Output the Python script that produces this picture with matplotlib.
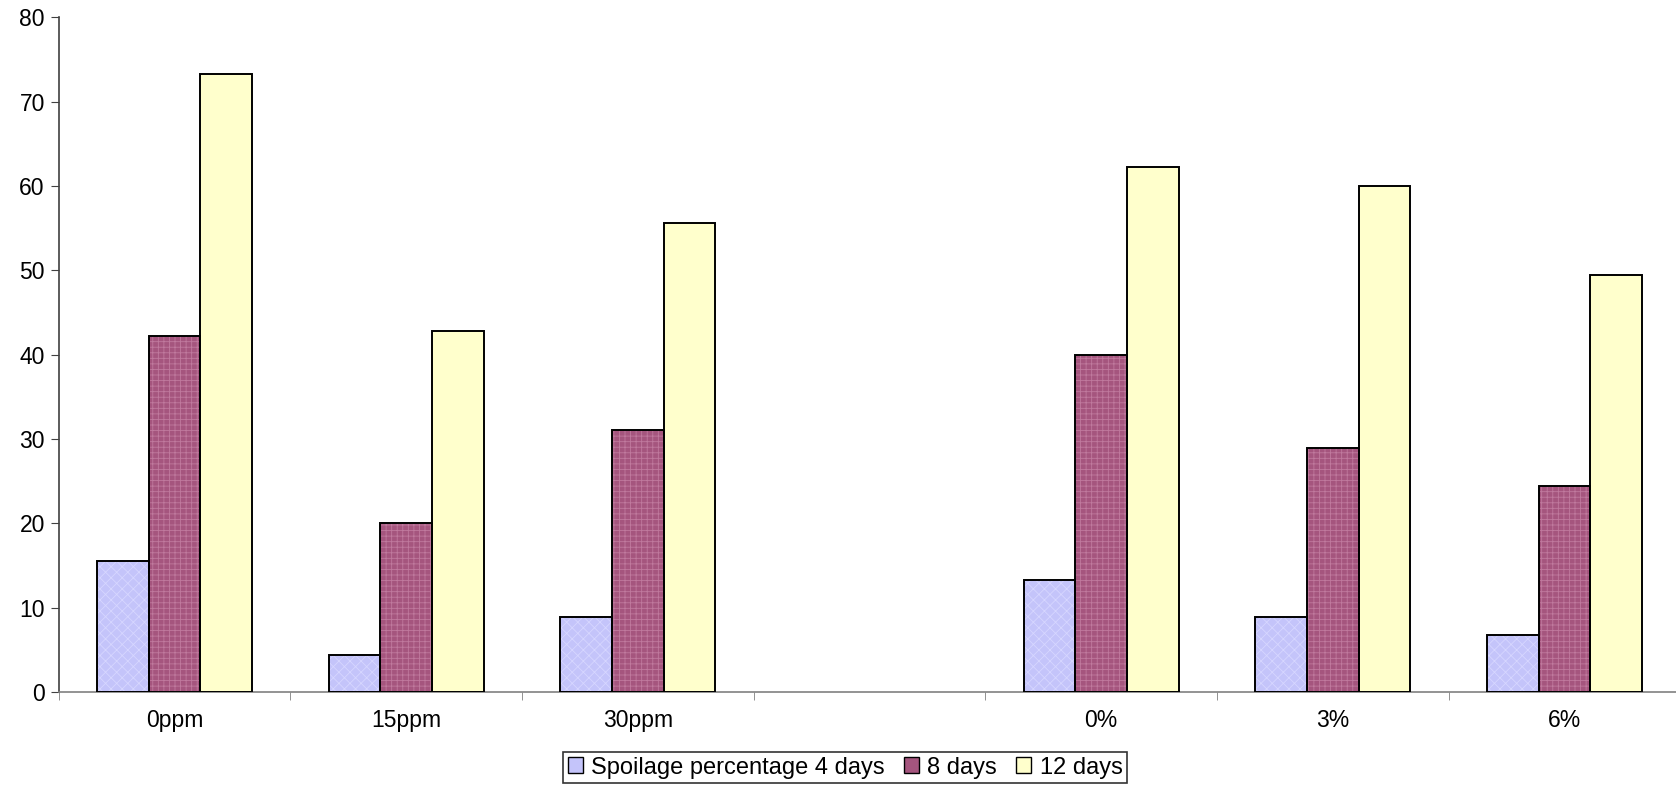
import numpy as np
import matplotlib.pyplot as plt
from matplotlib.patches import Patch

# --- data ---
categories = ["0ppm", "15ppm", "30ppm", "", "0%", "3%", "6%"]
days_4 = [15.5, 4.4, 8.9, np.nan, 13.3, 8.9, 6.7]
days_8 = [42.2, 20.0, 31.1, np.nan, 40.0, 28.9, 24.4]
days_12 = [73.3, 42.8, 55.6, np.nan, 62.2, 60.0, 49.4]
series_labels = ["Spoilage percentage 4 days", "8 days", "12 days"]

plt.rcParams['font.family'] = ['Liberation Sans', 'DejaVu Sans']
plt.rcParams['hatch.linewidth'] = 0.6

fig = plt.figure(figsize=(16.76, 7.86), dpi=100)
ax = fig.add_axes([0.035, 0.1196, 0.9675, 0.8584])

# style: face colour, hatch, hatch colour
styles = [
    ("#c4c4fa", "xxx", "#d6d6ff"),
    ("#a5557e", "+++", "#c07a9e"),
    ("#ffffcc", "", "#ffffcc"),
]

x = np.arange(len(categories)) + 0.5
w = 0.223
for i, vals in enumerate([days_4, days_8, days_12]):
    face, hatch, hcol = styles[i]
    pos = x + (i - 1) * w
    ax.bar(pos, vals, width=w, color=face, edgecolor=hcol, hatch=hatch,
           linewidth=0, zorder=2)
    ax.bar(pos, vals, width=w, fill=False, edgecolor="black",
           linewidth=1.4, zorder=3)

ax.set_xlim(0, len(categories))
ax.set_ylim(0, 80)
ax.set_yticks(range(0, 81, 10))

ax.set_xticks(x)
ax.set_xticklabels(categories)
ax.set_xticks(np.arange(len(categories) + 1), minor=True)
ax.tick_params(axis='x', which='major', length=0, pad=12, labelsize=16.5)
ax.tick_params(axis='x', which='minor', length=6, color='#808080', direction='out')
ax.tick_params(axis='y', length=6, color='#404040', labelsize=16.5, pad=4)

for side in ['top', 'right']:
    ax.spines[side].set_visible(False)
ax.spines['left'].set_color('#404040')
ax.spines['bottom'].set_color('#808080')
ax.spines['left'].set_linewidth(1.2)
ax.spines['bottom'].set_linewidth(1.2)

handles = [Patch(facecolor=s[0], edgecolor='black', linewidth=1) for s in styles]
leg = fig.legend(handles, series_labels, loc='center',
                 bbox_to_anchor=(845 / 1676, 0.0235), ncol=3,
                 fontsize=17, frameon=True, fancybox=False,
                 handlelength=0.65, handleheight=0.65, handletextpad=0.35,
                 columnspacing=0.8, borderpad=0.2, borderaxespad=0)
leg.get_frame().set_edgecolor('black')
leg.get_frame().set_linewidth(1.2)

fig.savefig("out.png", dpi=100)
